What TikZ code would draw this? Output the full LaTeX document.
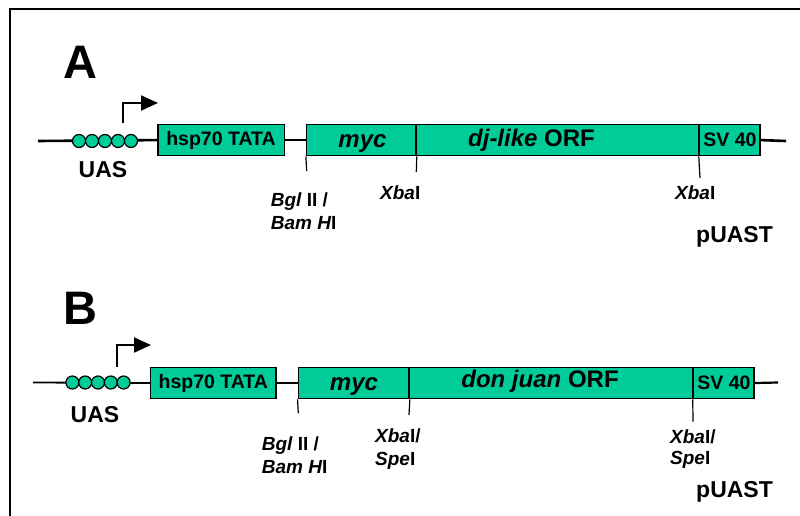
\documentclass[tikz,border=0pt]{standalone}
\usepackage{fontspec}
\setmainfont{Liberation Sans}
\usetikzlibrary{arrows.meta}
\definecolor{gene}{RGB}{0,204,153}
\tikzset{
  gbox/.style={draw=black, line width=1.6pt, fill=gene, inner sep=0pt, minimum height=31pt,
    font=\fontsize{19.5}{22}\selectfont\bfseries},
  orftext/.style={inner sep=0pt, anchor=base, font=\fontsize{24}{28}\selectfont\bfseries},
  uas/.style={circle, draw=black, line width=1.2pt, fill=gene, minimum size=13pt, inner sep=0pt},
  backbone/.style={line width=2.6pt},
  tick/.style={line width=1.2pt},
  site/.style={inner sep=0pt, anchor=west, align=left, font=\fontsize{19}{23}\selectfont\bfseries},
  biglabel/.style={inner sep=0pt, font=\fontsize{23}{26}\selectfont\bfseries},
  panel/.style={inner sep=0pt, font=\fontsize{47}{50}\selectfont\bfseries},
  prom/.style={line width=2pt, -{Triangle[length=17pt,width=15pt]}}
}
\begin{document}
\begin{tikzpicture}[x=1pt,y=-1pt]
\useasboundingbox (0,0) rectangle (800,516);
% frame
\draw[line width=2.5pt] (10,520) -- (10,9) -- (805,9);

% ================= Panel A =================
\node[panel] (labA) at (80,62) {A};
\coordinate (aStart) at (38,141);
\coordinate (aEnd) at (786,141);
\node[gbox, minimum width=126.6pt] (hspA) at (221,140.1) {hsp70 TATA};
\node[gbox, minimum width=109.3pt] (mycA) at (361.3,140.1) {};
\node[gbox, minimum width=282.3pt] (orfA) at (557.7,140.1) {};
\node[gbox, minimum width=60.7pt] (svA) at (729.9,140.1) {SV 40};
\node[orftext] (mycAt) at (362.5,147) {\itshape myc};
\node[orftext] (orfAt) at (531.5,146.7) {\itshape dj-like\upshape{} ORF};
\draw[backbone] (aStart) -- (hspA.west);
\draw[backbone] (hspA.east) -- (mycA.west);
\draw[backbone] (svA.east) -- (aEnd);
\foreach \i/\xx in {1/79,2/92,3/105,4/118,5/131}
  \node[uas] (uA\i) at (\xx,141) {};
\node[biglabel] (uasA) at (103,170) {UAS};
\coordinate (pA0) at (123,123.5);
\coordinate (pA1) at (123,103);
\coordinate (pA2) at (158,103);
\draw[prom] (pA0) -- (pA1) -- (pA2);
% restriction sites
\coordinate (tA1) at (306.7,171);
\coordinate (tA2) at (416.3,172);
\coordinate (tA3) at (700,178);
\draw[tick] (mycA.south west) -- (tA1);
\draw[tick] (mycA.south east) -- (tA2);
\draw[tick] (svA.south west) -- (tA3);
\node[site] (bglA) at (270.7,211.5) {\itshape Bgl\upshape{} II /\\\itshape Bam H\upshape I};
\node[site] (xbaA1) at (380,193) {\itshape Xba\upshape I};
\node[site] (xbaA2) at (675,193) {\itshape Xba\upshape I};
\node[biglabel, anchor=west] (puastA) at (696,237) {pUAST};

% ================= Panel B =================
\node[panel] (labB) at (80,308) {B};
\coordinate (bStart) at (33,382.5);
\coordinate (bEnd) at (778,382.5);
\node[gbox, minimum width=125.3pt] (hspB) at (213.3,383) {hsp70 TATA};
\node[gbox, minimum width=110.7pt] (mycB) at (353.7,383) {};
\node[gbox, minimum width=283.3pt] (orfB) at (551.2,383) {};
\node[gbox, minimum width=60.7pt] (svB) at (723.9,383) {SV 40};
\node[orftext] (mycBt) at (354,390) {\itshape myc};
\node[orftext] (orfBt) at (540,387.5) {\itshape don juan\upshape{} ORF};
\draw[line width=1.8pt] (bStart) -- (hspB.west);
\draw[line width=2.2pt] (hspB.east) -- (mycB.west);
\draw[line width=2.2pt] (svB.east) -- (bEnd);
\foreach \i/\xx in {1/72.4,2/85.2,3/98,4/110.8,5/123.6}
  \node[uas] (uB\i) at (\xx,382.5) {};
\node[biglabel] (uasB) at (95,415) {UAS};
\coordinate (pB0) at (116.7,366.7);
\coordinate (pB1) at (116.7,345);
\coordinate (pB2) at (151,345);
\draw[prom] (pB0) -- (pB1) -- (pB2);
\coordinate (tB1) at (298.3,413.3);
\coordinate (tB2) at (409,415);
\coordinate (tB3) at (693,421.7);
\draw[tick] (mycB.south west) -- (tB1);
\draw[tick] (mycB.south east) -- (tB2);
\draw[tick] (svB.south west) -- (tB3);
\node[site] (bglB) at (261.7,455) {\itshape Bgl\upshape{} II /\\\itshape Bam H\upshape I};
\node[site] (xbaB1) at (375,449) {\itshape Xba\upshape I/\\\itshape Spe\upshape I};
\node[site, font=\fontsize{19}{21}\selectfont\bfseries] (xbaB2) at (670,449) {\itshape Xba\upshape I/\\\itshape Spe\upshape I};
\node[biglabel, anchor=west] (puastB) at (696,492) {pUAST};
\end{tikzpicture}
\end{document}
